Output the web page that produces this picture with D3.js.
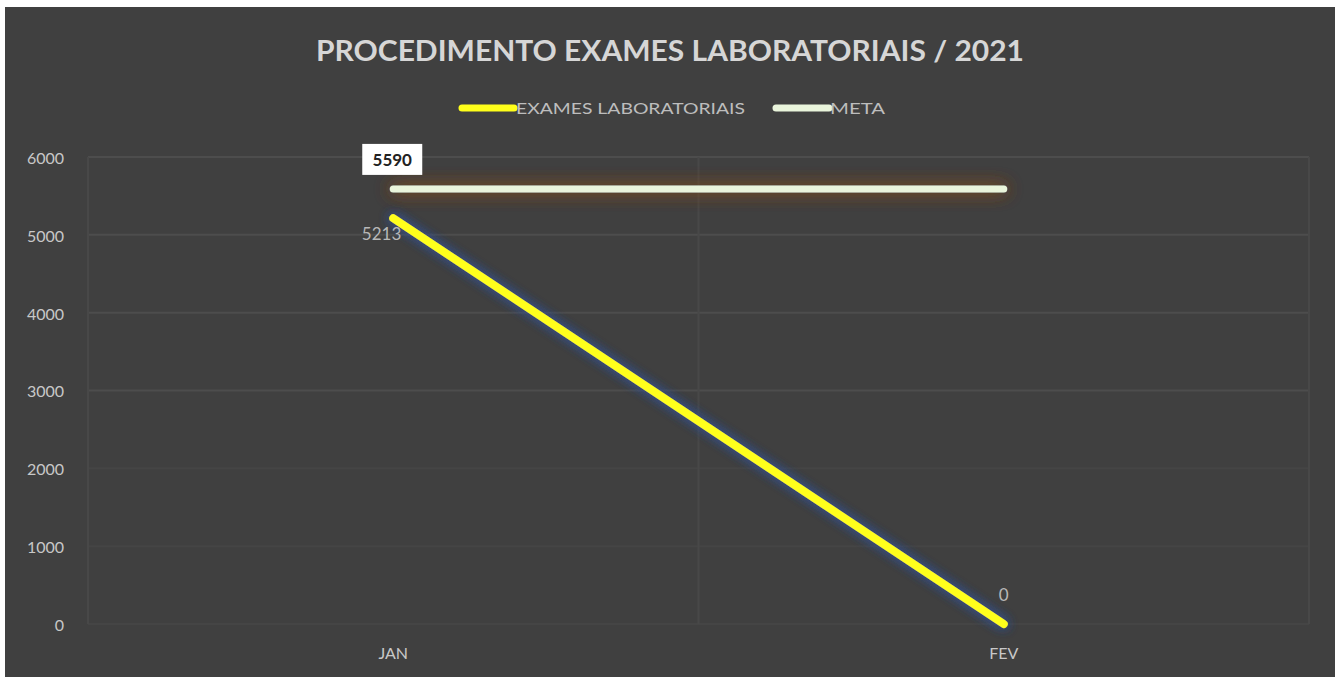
<!DOCTYPE html>
<html><head><meta charset="utf-8">
<script src="https://cdn.jsdelivr.net/npm/d3@7"></script>
<style>body{margin:0;background:#fff;}svg{display:block;}</style>
</head><body>
<svg id="chart" width="1335" height="677"></svg>
<script>
const categories = ["JAN", "FEV"];
const exames = [5213, 0];
const meta = [5590, 5590];
const yTicks = [0, 1000, 2000, 3000, 4000, 5000, 6000];
const seriesNames = ["EXAMES LABORATORIAIS", "META"];
const title = "PROCEDIMENTO  EXAMES LABORATORIAIS / 2021";

(function(){
const svg = d3.select("#chart");
const font = "Lato, 'Open Sans', sans-serif";
const defs = svg.append("defs");
function glow(id, color, sd, op){
  const f = defs.append("filter").attr("id", id).attr("filterUnits","userSpaceOnUse")
    .attr("x",0).attr("y",0).attr("width",1335).attr("height",677);
  f.append("feGaussianBlur").attr("in","SourceAlpha").attr("stdDeviation",sd).attr("result","b");
  f.append("feFlood").attr("flood-color",color).attr("flood-opacity",op).attr("result","c");
  f.append("feComposite").attr("in","c").attr("in2","b").attr("operator","in").attr("result","s");
  const m = f.append("feMerge");
  m.append("feMergeNode").attr("in","s");
  m.append("feMergeNode").attr("in","s");
  m.append("feMergeNode").attr("in","SourceGraphic");
}
glow("gy", "#34508f", 6, 0.9);
glow("gm", "#7a4a26", 9, 0.9);

svg.append("rect").attr("x",5).attr("y",7).attr("width",1330).attr("height",670).attr("fill","#404040");

const pl = 88, pr = 1309, pt = 157, pb = 624;
const x = d3.scaleBand().domain(categories).range([pl, pr]);
const y = d3.scaleLinear().domain([0, 6000]).range([pb, pt]);
const cx = d => x(d) + x.bandwidth()/2;

// gridlines
const grid = svg.append("g");
grid.selectAll("line.h").data(yTicks).join("line")
  .attr("x1", pl).attr("x2", pr).attr("y1", d=>y(d)).attr("y2", d=>y(d))
  .attr("stroke", d => d >= 3000 ? "#4d4d4d" : "#454545").attr("stroke-width", 2);
const vx = [pl, x("FEV"), pr];
grid.selectAll("line.v").data(vx).join("line")
  .attr("x1", d=>d).attr("x2", d=>d).attr("y1", pt).attr("y2", pb)
  .attr("stroke", "#484848").attr("stroke-width", 2);

// y axis
const yAxis = svg.append("g").attr("transform", `translate(${pl-21},0)`)
  .call(d3.axisLeft(y).tickValues(yTicks).tickSize(0).tickFormat(d3.format("d")));
yAxis.select(".domain").remove();
yAxis.selectAll("text").attr("fill","#c8c8c8").attr("font-size",16).attr("font-family",font).attr("dy","0.4em");

// x axis
const xAxis = svg.append("g").attr("transform", `translate(0,${pb+22})`)
  .call(d3.axisBottom(x).tickSize(0));
xAxis.select(".domain").remove();
xAxis.selectAll("text").attr("fill","#c8c8c8").attr("font-size",16).attr("font-family",font).attr("dy","0.6em");

// lines
const line = d3.line().x((d,i)=>cx(categories[i])).y(d=>y(d));
svg.append("path").datum(meta).attr("d", line).attr("fill","none")
  .attr("stroke","#eaf5dc").attr("stroke-width",7).attr("stroke-linecap","round").attr("filter","url(#gm)");
svg.append("path").datum(exames).attr("d", line).attr("fill","none")
  .attr("stroke","#ffff1a").attr("stroke-width",8).attr("stroke-linecap","round").attr("filter","url(#gy)");

// data labels
const mx = cx("JAN");
svg.append("rect").attr("x", mx-31).attr("y", y(meta[0])-45).attr("width",60).attr("height",31).attr("fill","#ffffff");
svg.append("text").attr("x", mx-1).attr("y", y(meta[0])-23).attr("text-anchor","middle")
  .attr("font-family",font).attr("font-weight","bold").attr("font-size",17).attr("fill","#222").text(meta[0]);
svg.append("text").attr("x", mx+8).attr("y", y(exames[0])+22).attr("text-anchor","end")
  .attr("font-family",font).attr("font-size",17).attr("fill","#b8b8b8").text(exames[0]);
svg.append("text").attr("x", cx("FEV")).attr("y", y(exames[1])-23).attr("text-anchor","middle")
  .attr("font-family",font).attr("font-size",17).attr("fill","#b8b8b8").text(exames[1]);

// title
svg.append("text").attr("x", 670).attr("y", 61).attr("text-anchor","middle")
  .attr("font-family",font).attr("font-weight","bold").attr("font-size",28).attr("fill","#d6d6d6")
  .attr("textLength", 708).attr("lengthAdjust","spacingAndGlyphs").text(title);

// legend
const legend = [
  {name: seriesNames[0], color:"#ffff1a", x1:462, x2:514, tx:516, tw:229},
  {name: seriesNames[1], color:"#eaf5dc", x1:776, x2:829, tx:830, tw:55}
];
const lg = svg.append("g");
legend.forEach(l => {
  lg.append("line").attr("x1",l.x1).attr("x2",l.x2).attr("y1",108).attr("y2",108)
    .attr("stroke",l.color).attr("stroke-width",7).attr("stroke-linecap","round");
  lg.append("text").attr("x",l.tx).attr("y",114).attr("font-family",font).attr("font-size",16)
    .attr("fill","#bdbdbd").attr("textLength",l.tw).attr("lengthAdjust","spacingAndGlyphs").text(l.name);
});
})();
</script>
</body></html>
